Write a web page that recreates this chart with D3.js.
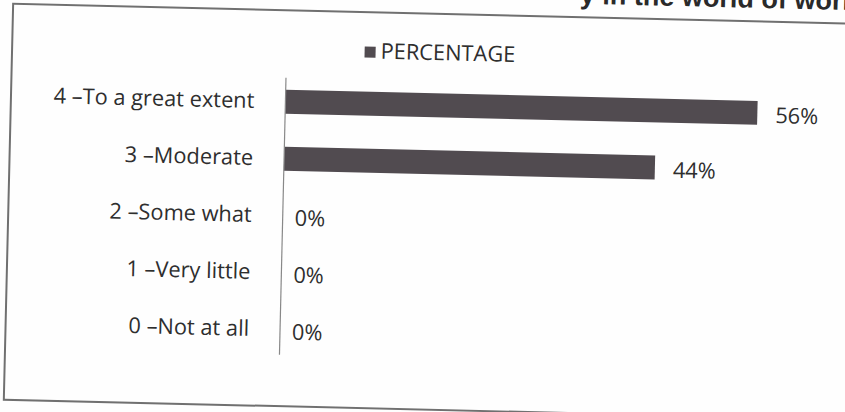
<!DOCTYPE html>
<html><head><meta charset="utf-8">
<script src="https://cdn.jsdelivr.net/npm/d3@7"></script>
<style>html,body{margin:0;padding:0;background:#fff;}svg{display:block;}</style>
</head><body>
<script>
const categories = ["4 \u2013To a great extent","3 \u2013Moderate","2 \u2013Some what","1 \u2013Very little","0 \u2013Not at all"];
const values = [56,44,0,0,0];
const valueLabels = ["56%","44%","0%","0%","0%"];
const seriesName = "PERCENTAGE";
const captionText = "y in the world of work";

const W=845,H=412;
const svg=d3.select("body").append("svg").attr("width",W).attr("height",H);
svg.append("rect").attr("width",W).attr("height",H).attr("fill","#fefefe");
const g=svg.append("g").attr("transform","rotate(1.35,422,206)");
const font="'Open Sans', Lato, sans-serif";
const txt="#2e2e2e";
const fs=21.8;

// caption (cut off at top, as in the scanned source)
g.append("text").attr("x",575).attr("y",0).attr("font-family","'Liberation Sans', Arial, sans-serif")
 .attr("font-weight","bold").attr("font-size",27).attr("fill","#2a2a2a").text(captionText);

// frame
g.append("rect").attr("x",8.5).attr("y",13.5).attr("width",880).attr("height",396)
 .attr("fill","none").attr("stroke","#707070").attr("stroke-width",2);

const x=d3.scaleLinear().domain([0,60]).range([283,283+60*8.43]);
const y=d3.scaleBand().domain(categories).range([76.5,361.5]).paddingInner(0.58).paddingOuter(0.29);

// bars
g.selectAll("rect.bar").data(values).join("rect").attr("class","bar")
 .attr("x",x(0)).attr("y",(d,i)=>y(categories[i])).attr("height",y.bandwidth())
 .attr("width",d=>x(d)-x(0)).attr("fill","#514b50");

// axis line
const yAxis=d3.axisLeft(y).tickSize(0).tickPadding(31);
const ax=g.append("g").attr("transform",`translate(${x(0)},0)`).call(yAxis);
ax.select(".domain").attr("stroke","#888").attr("stroke-width",1.2).attr("d",`M0,81V358`);
ax.selectAll("text").attr("font-family",font).attr("font-size",fs).attr("fill",txt);

// value labels
g.selectAll("text.val").data(values).join("text").attr("class","val")
 .attr("x",d=>x(d)+(d>0?18:12)).attr("y",(d,i)=>y(categories[i])+y.bandwidth()/2+4)
 .attr("dominant-baseline","middle").attr("font-family",font).attr("font-size",fs).attr("fill",txt)
 .text((d,i)=>valueLabels[i]);

// legend
g.append("rect").attr("x",361).attr("y",48).attr("width",11).attr("height",11).attr("fill","#514b50");
g.append("text").attr("x",377).attr("y",54).attr("dominant-baseline","middle")
 .attr("font-family",font).attr("font-size",fs).attr("fill",txt).text(seriesName);
</script>
</body></html>
